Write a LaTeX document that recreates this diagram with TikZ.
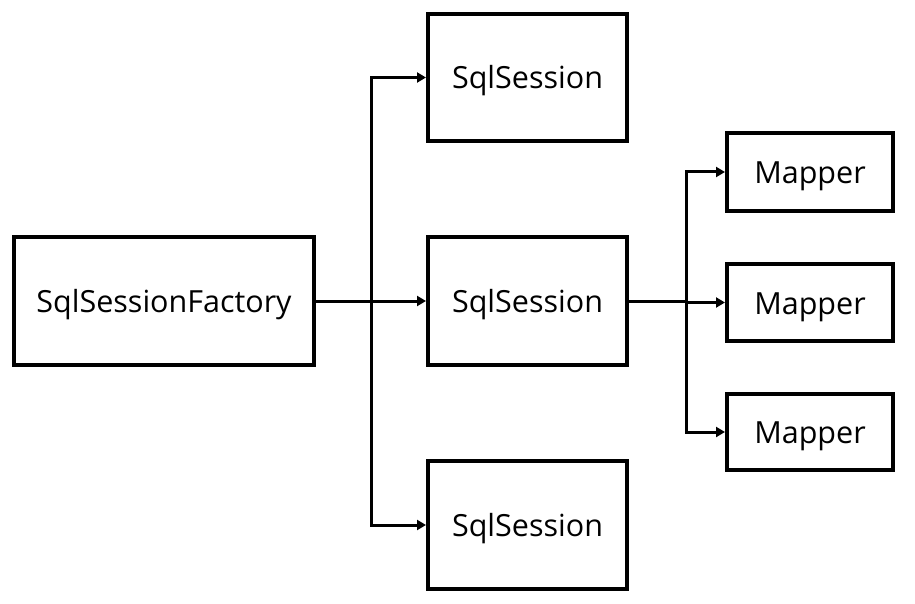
\documentclass[tikz,border=0pt]{standalone}
\usepackage{fontspec}
\setmainfont{Open Sans}
\usetikzlibrary{arrows.meta}
\begin{document}
\begin{tikzpicture}[x=1pt,y=-1pt,
  box/.style={draw, line width=4pt, minimum width=#1, inner sep=0pt, text height=23pt, text depth=0pt, font=\fontsize{30.5}{36}\selectfont},
  conn/.style={line width=3pt},
  arr/.style={conn, -{Triangle[length=9pt,width=10pt]}}]
\useasboundingbox (0,0) rectangle (915,604);
\node[box=300pt, minimum height=128pt] (f) at (164,301) {SqlSessionFactory};
\node[box=199pt, minimum height=127pt] (s1) at (527.5,77.5) {SqlSession};
\node[box=199pt, minimum height=128pt] (s2) at (527.5,301) {SqlSession};
\node[box=199pt, minimum height=128pt] (s3) at (527.5,525) {SqlSession};
\node[box=166pt, minimum height=78pt] (m1) at (810,172) {Mapper};
\node[box=166pt, minimum height=77pt] (m2) at (810,302.5) {Mapper};
\node[box=166pt, minimum height=76pt] (m3) at (810,432) {Mapper};
\coordinate (j1) at (371,301);
\coordinate (j2) at (686,301);
\draw[conn] (f.east) -- (j1);
\draw[arr] (j1) |- (s1.west);
\draw[arr] (j1) -- (s2.west);
\draw[arr] (j1) |- (s3.west);
\draw[conn] (s2.east) -- (j2);
\draw[arr] (j2) |- (m1.west);
\draw[arr] (j2) |- (m2.west);
\draw[arr] (j2) |- (m3.west);
\end{tikzpicture}
\end{document}
